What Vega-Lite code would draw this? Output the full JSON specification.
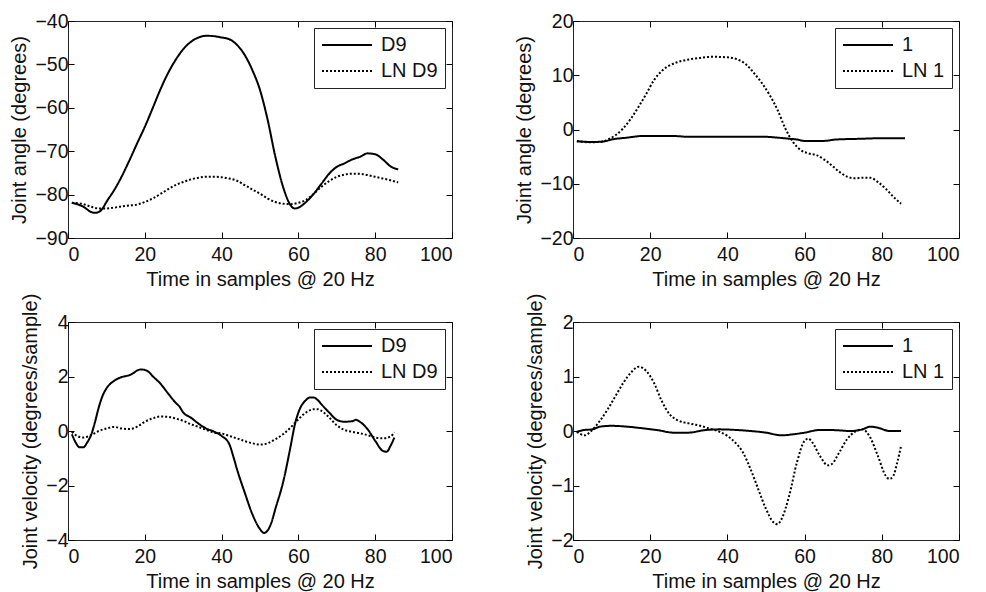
{
"$schema": "https://vega.github.io/schema/vega-lite/v6.json",
"background": "white",
"padding": {"left": 9, "top": 10, "right": 5, "bottom": 2},
"bounds": "flush",
"spacing": {"row": 84, "column": 121},
"columns": 2,
"config": {
  "font": "Liberation Sans",
  "view": {"stroke": "#222", "strokeWidth": 1},
  "axis": {"grid": false, "domain": false, "labelFont": "Liberation Sans", "labelFontSize": 19.5, "labelColor": "#111", "titleFont": "Liberation Sans", "titleFontSize": 20, "titleFontWeight": "normal", "titleColor": "#111", "tickColor": "#000", "tickWidth": 1, "tickSize": -6, "titlePadding": 7},
  "axisX": {"labelPadding": 13, "titlePadding": 6},
  "axisY": {"labelPadding": 6, "titlePadding": 5},
  "legend": {"orient": "top-right", "offset": 7, "labelFont": "Liberation Sans", "labelFontSize": 20, "labelColor": "#111", "labelLimit": 300, "symbolType": "stroke", "symbolSize": 2500, "symbolStrokeWidth": 2, "symbolStrokeColor": "#000", "strokeColor": "#222", "fillColor": "white", "padding": 7, "rowPadding": 6, "labelOffset": 8, "clipHeight": 20}
},
"resolve": {"scale": {"strokeDash": "independent"}, "legend": {"strokeDash": "independent"}},
"data": {"values": [
{"p":"A","s":"D9","t":1,"v":-81.9},{"p":"A","s":"D9","t":2,"v":-82.1},{"p":"A","s":"D9","t":4,"v":-82.8},{"p":"A","s":"D9","t":6,"v":-84},{"p":"A","s":"D9","t":7,"v":-84.2},{"p":"A","s":"D9","t":8,"v":-84},{"p":"A","s":"D9","t":9,"v":-83.2},{"p":"A","s":"D9","t":10,"v":-81.7},{"p":"A","s":"D9","t":12,"v":-79},{"p":"A","s":"D9","t":14,"v":-75.8},{"p":"A","s":"D9","t":16,"v":-72.1},{"p":"A","s":"D9","t":18,"v":-68.2},{"p":"A","s":"D9","t":20,"v":-64.4},{"p":"A","s":"D9","t":22,"v":-60.2},{"p":"A","s":"D9","t":24,"v":-55.9},{"p":"A","s":"D9","t":26,"v":-52.1},{"p":"A","s":"D9","t":28,"v":-49},{"p":"A","s":"D9","t":30,"v":-46.5},{"p":"A","s":"D9","t":32,"v":-44.8},{"p":"A","s":"D9","t":34,"v":-43.8},{"p":"A","s":"D9","t":36,"v":-43.4},{"p":"A","s":"D9","t":38,"v":-43.5},{"p":"A","s":"D9","t":40,"v":-43.8},{"p":"A","s":"D9","t":42,"v":-44.2},{"p":"A","s":"D9","t":44,"v":-45.5},{"p":"A","s":"D9","t":46,"v":-47.8},{"p":"A","s":"D9","t":48,"v":-51.3},{"p":"A","s":"D9","t":50,"v":-55.9},{"p":"A","s":"D9","t":52,"v":-62.8},{"p":"A","s":"D9","t":54,"v":-71.3},{"p":"A","s":"D9","t":56,"v":-78.2},{"p":"A","s":"D9","t":58,"v":-82.5},{"p":"A","s":"D9","t":59,"v":-83.2},{"p":"A","s":"D9","t":60,"v":-83},{"p":"A","s":"D9","t":62,"v":-81.7},{"p":"A","s":"D9","t":64,"v":-79.8},{"p":"A","s":"D9","t":66,"v":-77.5},{"p":"A","s":"D9","t":68,"v":-75.2},{"p":"A","s":"D9","t":70,"v":-73.6},{"p":"A","s":"D9","t":72,"v":-72.8},{"p":"A","s":"D9","t":74,"v":-71.9},{"p":"A","s":"D9","t":76,"v":-71.3},{"p":"A","s":"D9","t":78,"v":-70.5},{"p":"A","s":"D9","t":80,"v":-70.7},{"p":"A","s":"D9","t":82,"v":-71.9},{"p":"A","s":"D9","t":84,"v":-73.5},{"p":"A","s":"D9","t":86,"v":-74.2},
{"p":"A","s":"LN D9","t":1,"v":-81.9},{"p":"A","s":"LN D9","t":4,"v":-82.2},{"p":"A","s":"LN D9","t":6,"v":-82.8},{"p":"A","s":"LN D9","t":8,"v":-83.2},{"p":"A","s":"LN D9","t":10,"v":-83.2},{"p":"A","s":"LN D9","t":12,"v":-83},{"p":"A","s":"LN D9","t":14,"v":-82.7},{"p":"A","s":"LN D9","t":16,"v":-82.5},{"p":"A","s":"LN D9","t":18,"v":-82.3},{"p":"A","s":"LN D9","t":20,"v":-81.7},{"p":"A","s":"LN D9","t":22,"v":-80.9},{"p":"A","s":"LN D9","t":24,"v":-79.9},{"p":"A","s":"LN D9","t":26,"v":-78.8},{"p":"A","s":"LN D9","t":28,"v":-77.8},{"p":"A","s":"LN D9","t":30,"v":-77.1},{"p":"A","s":"LN D9","t":32,"v":-76.5},{"p":"A","s":"LN D9","t":34,"v":-76.1},{"p":"A","s":"LN D9","t":36,"v":-75.9},{"p":"A","s":"LN D9","t":38,"v":-75.9},{"p":"A","s":"LN D9","t":40,"v":-76},{"p":"A","s":"LN D9","t":42,"v":-76.3},{"p":"A","s":"LN D9","t":44,"v":-76.8},{"p":"A","s":"LN D9","t":46,"v":-77.8},{"p":"A","s":"LN D9","t":48,"v":-78.8},{"p":"A","s":"LN D9","t":50,"v":-79.8},{"p":"A","s":"LN D9","t":52,"v":-80.9},{"p":"A","s":"LN D9","t":54,"v":-81.7},{"p":"A","s":"LN D9","t":56,"v":-82.1},{"p":"A","s":"LN D9","t":58,"v":-82.2},{"p":"A","s":"LN D9","t":60,"v":-81.9},{"p":"A","s":"LN D9","t":62,"v":-81.2},{"p":"A","s":"LN D9","t":64,"v":-79.8},{"p":"A","s":"LN D9","t":66,"v":-78.2},{"p":"A","s":"LN D9","t":68,"v":-76.9},{"p":"A","s":"LN D9","t":70,"v":-75.9},{"p":"A","s":"LN D9","t":72,"v":-75.4},{"p":"A","s":"LN D9","t":74,"v":-75.2},{"p":"A","s":"LN D9","t":76,"v":-75.2},{"p":"A","s":"LN D9","t":78,"v":-75.5},{"p":"A","s":"LN D9","t":80,"v":-75.9},{"p":"A","s":"LN D9","t":82,"v":-76.3},{"p":"A","s":"LN D9","t":84,"v":-76.7},{"p":"A","s":"LN D9","t":86,"v":-77.2},
{"p":"B","s":"1","t":1,"v":-2.15},{"p":"B","s":"1","t":5,"v":-2.3},{"p":"B","s":"1","t":8,"v":-2.2},{"p":"B","s":"1","t":10,"v":-1.85},{"p":"B","s":"1","t":14,"v":-1.5},{"p":"B","s":"1","t":18,"v":-1.2},{"p":"B","s":"1","t":22,"v":-1.2},{"p":"B","s":"1","t":26,"v":-1.2},{"p":"B","s":"1","t":30,"v":-1.35},{"p":"B","s":"1","t":40,"v":-1.35},{"p":"B","s":"1","t":50,"v":-1.35},{"p":"B","s":"1","t":53,"v":-1.5},{"p":"B","s":"1","t":56,"v":-1.7},{"p":"B","s":"1","t":58,"v":-1.85},{"p":"B","s":"1","t":60,"v":-2.1},{"p":"B","s":"1","t":65,"v":-2.1},{"p":"B","s":"1","t":68,"v":-1.85},{"p":"B","s":"1","t":75,"v":-1.7},{"p":"B","s":"1","t":80,"v":-1.6},{"p":"B","s":"1","t":86,"v":-1.6},
{"p":"B","s":"LN 1","t":1,"v":-2.15},{"p":"B","s":"LN 1","t":4,"v":-2.35},{"p":"B","s":"LN 1","t":7,"v":-2.3},{"p":"B","s":"LN 1","t":9,"v":-1.85},{"p":"B","s":"LN 1","t":11,"v":-1.05},{"p":"B","s":"LN 1","t":13,"v":0.2},{"p":"B","s":"LN 1","t":15,"v":2},{"p":"B","s":"LN 1","t":17,"v":4.2},{"p":"B","s":"LN 1","t":19,"v":6.6},{"p":"B","s":"LN 1","t":21,"v":9.1},{"p":"B","s":"LN 1","t":23,"v":10.8},{"p":"B","s":"LN 1","t":25,"v":11.8},{"p":"B","s":"LN 1","t":27,"v":12.4},{"p":"B","s":"LN 1","t":30,"v":12.9},{"p":"B","s":"LN 1","t":33,"v":13.2},{"p":"B","s":"LN 1","t":36,"v":13.4},{"p":"B","s":"LN 1","t":40,"v":13.3},{"p":"B","s":"LN 1","t":43,"v":12.8},{"p":"B","s":"LN 1","t":45,"v":11.9},{"p":"B","s":"LN 1","t":47,"v":10.3},{"p":"B","s":"LN 1","t":49,"v":8.5},{"p":"B","s":"LN 1","t":51,"v":6.3},{"p":"B","s":"LN 1","t":53,"v":3.6},{"p":"B","s":"LN 1","t":55,"v":0.2},{"p":"B","s":"LN 1","t":57,"v":-2.3},{"p":"B","s":"LN 1","t":59,"v":-3.8},{"p":"B","s":"LN 1","t":61,"v":-4.4},{"p":"B","s":"LN 1","t":63,"v":-4.7},{"p":"B","s":"LN 1","t":65,"v":-5.5},{"p":"B","s":"LN 1","t":67,"v":-6.6},{"p":"B","s":"LN 1","t":69,"v":-7.8},{"p":"B","s":"LN 1","t":71,"v":-8.7},{"p":"B","s":"LN 1","t":73,"v":-9},{"p":"B","s":"LN 1","t":75,"v":-8.9},{"p":"B","s":"LN 1","t":77,"v":-8.9},{"p":"B","s":"LN 1","t":79,"v":-9.7},{"p":"B","s":"LN 1","t":81,"v":-10.9},{"p":"B","s":"LN 1","t":83,"v":-12.4},{"p":"B","s":"LN 1","t":85,"v":-13.7},
{"p":"C","s":"D9","t":1,"v":-0.12},{"p":"C","s":"D9","t":2,"v":-0.42},{"p":"C","s":"D9","t":3,"v":-0.6},{"p":"C","s":"D9","t":4,"v":-0.6},{"p":"C","s":"D9","t":5,"v":-0.42},{"p":"C","s":"D9","t":6,"v":-0.15},{"p":"C","s":"D9","t":7,"v":0.31},{"p":"C","s":"D9","t":8,"v":0.86},{"p":"C","s":"D9","t":9,"v":1.29},{"p":"C","s":"D9","t":10,"v":1.56},{"p":"C","s":"D9","t":12,"v":1.84},{"p":"C","s":"D9","t":14,"v":1.98},{"p":"C","s":"D9","t":16,"v":2.05},{"p":"C","s":"D9","t":17,"v":2.12},{"p":"C","s":"D9","t":18,"v":2.22},{"p":"C","s":"D9","t":19,"v":2.26},{"p":"C","s":"D9","t":20,"v":2.24},{"p":"C","s":"D9","t":21,"v":2.17},{"p":"C","s":"D9","t":22,"v":2.02},{"p":"C","s":"D9","t":24,"v":1.75},{"p":"C","s":"D9","t":26,"v":1.39},{"p":"C","s":"D9","t":28,"v":1.04},{"p":"C","s":"D9","t":29,"v":0.9},{"p":"C","s":"D9","t":30,"v":0.68},{"p":"C","s":"D9","t":32,"v":0.49},{"p":"C","s":"D9","t":34,"v":0.27},{"p":"C","s":"D9","t":36,"v":0.09},{"p":"C","s":"D9","t":38,"v":-0.02},{"p":"C","s":"D9","t":40,"v":-0.18},{"p":"C","s":"D9","t":42,"v":-0.48},{"p":"C","s":"D9","t":43,"v":-0.91},{"p":"C","s":"D9","t":44,"v":-1.4},{"p":"C","s":"D9","t":46,"v":-2.25},{"p":"C","s":"D9","t":48,"v":-3.05},{"p":"C","s":"D9","t":50,"v":-3.6},{"p":"C","s":"D9","t":51,"v":-3.74},{"p":"C","s":"D9","t":52,"v":-3.65},{"p":"C","s":"D9","t":53,"v":-3.35},{"p":"C","s":"D9","t":54,"v":-2.86},{"p":"C","s":"D9","t":56,"v":-1.89},{"p":"C","s":"D9","t":58,"v":-0.54},{"p":"C","s":"D9","t":59,"v":0.19},{"p":"C","s":"D9","t":60,"v":0.68},{"p":"C","s":"D9","t":62,"v":1.14},{"p":"C","s":"D9","t":63,"v":1.23},{"p":"C","s":"D9","t":64,"v":1.23},{"p":"C","s":"D9","t":65,"v":1.14},{"p":"C","s":"D9","t":66,"v":0.98},{"p":"C","s":"D9","t":68,"v":0.68},{"p":"C","s":"D9","t":70,"v":0.41},{"p":"C","s":"D9","t":72,"v":0.34},{"p":"C","s":"D9","t":74,"v":0.36},{"p":"C","s":"D9","t":75,"v":0.41},{"p":"C","s":"D9","t":76,"v":0.34},{"p":"C","s":"D9","t":78,"v":0.07},{"p":"C","s":"D9","t":80,"v":-0.36},{"p":"C","s":"D9","t":82,"v":-0.73},{"p":"C","s":"D9","t":83,"v":-0.76},{"p":"C","s":"D9","t":84,"v":-0.54},{"p":"C","s":"D9","t":85,"v":-0.24},
{"p":"C","s":"LN D9","t":1,"v":-0.03},{"p":"C","s":"LN D9","t":2,"v":-0.15},{"p":"C","s":"LN D9","t":4,"v":-0.24},{"p":"C","s":"LN D9","t":6,"v":-0.15},{"p":"C","s":"LN D9","t":8,"v":0},{"p":"C","s":"LN D9","t":10,"v":0.09},{"p":"C","s":"LN D9","t":12,"v":0.15},{"p":"C","s":"LN D9","t":14,"v":0.09},{"p":"C","s":"LN D9","t":16,"v":0.07},{"p":"C","s":"LN D9","t":18,"v":0.16},{"p":"C","s":"LN D9","t":20,"v":0.34},{"p":"C","s":"LN D9","t":22,"v":0.46},{"p":"C","s":"LN D9","t":24,"v":0.53},{"p":"C","s":"LN D9","t":26,"v":0.52},{"p":"C","s":"LN D9","t":28,"v":0.46},{"p":"C","s":"LN D9","t":30,"v":0.37},{"p":"C","s":"LN D9","t":32,"v":0.25},{"p":"C","s":"LN D9","t":34,"v":0.15},{"p":"C","s":"LN D9","t":36,"v":0.04},{"p":"C","s":"LN D9","t":38,"v":-0.06},{"p":"C","s":"LN D9","t":40,"v":-0.09},{"p":"C","s":"LN D9","t":42,"v":-0.18},{"p":"C","s":"LN D9","t":44,"v":-0.27},{"p":"C","s":"LN D9","t":46,"v":-0.37},{"p":"C","s":"LN D9","t":48,"v":-0.45},{"p":"C","s":"LN D9","t":50,"v":-0.5},{"p":"C","s":"LN D9","t":52,"v":-0.45},{"p":"C","s":"LN D9","t":54,"v":-0.3},{"p":"C","s":"LN D9","t":56,"v":-0.12},{"p":"C","s":"LN D9","t":58,"v":0.13},{"p":"C","s":"LN D9","t":60,"v":0.43},{"p":"C","s":"LN D9","t":62,"v":0.68},{"p":"C","s":"LN D9","t":64,"v":0.8},{"p":"C","s":"LN D9","t":65,"v":0.8},{"p":"C","s":"LN D9","t":66,"v":0.74},{"p":"C","s":"LN D9","t":68,"v":0.5},{"p":"C","s":"LN D9","t":70,"v":0.21},{"p":"C","s":"LN D9","t":72,"v":0.04},{"p":"C","s":"LN D9","t":74,"v":-0.03},{"p":"C","s":"LN D9","t":76,"v":-0.08},{"p":"C","s":"LN D9","t":78,"v":-0.15},{"p":"C","s":"LN D9","t":80,"v":-0.24},{"p":"C","s":"LN D9","t":82,"v":-0.27},{"p":"C","s":"LN D9","t":84,"v":-0.2},{"p":"C","s":"LN D9","t":85,"v":-0.05},
{"p":"D","s":"1","t":1,"v":-0.015},{"p":"D","s":"1","t":3,"v":0.02},{"p":"D","s":"1","t":5,"v":0.03},{"p":"D","s":"1","t":7,"v":0.08},{"p":"D","s":"1","t":10,"v":0.095},{"p":"D","s":"1","t":14,"v":0.08},{"p":"D","s":"1","t":18,"v":0.05},{"p":"D","s":"1","t":22,"v":0.015},{"p":"D","s":"1","t":26,"v":-0.03},{"p":"D","s":"1","t":30,"v":-0.03},{"p":"D","s":"1","t":34,"v":0.015},{"p":"D","s":"1","t":38,"v":0.03},{"p":"D","s":"1","t":42,"v":0.02},{"p":"D","s":"1","t":46,"v":0},{"p":"D","s":"1","t":50,"v":-0.03},{"p":"D","s":"1","t":54,"v":-0.08},{"p":"D","s":"1","t":57,"v":-0.06},{"p":"D","s":"1","t":60,"v":-0.03},{"p":"D","s":"1","t":64,"v":0.02},{"p":"D","s":"1","t":68,"v":0.015},{"p":"D","s":"1","t":72,"v":0},{"p":"D","s":"1","t":75,"v":0.03},{"p":"D","s":"1","t":77,"v":0.08},{"p":"D","s":"1","t":79,"v":0.06},{"p":"D","s":"1","t":82,"v":0},{"p":"D","s":"1","t":85,"v":0},
{"p":"D","s":"LN 1","t":1,"v":-0.015},{"p":"D","s":"LN 1","t":3,"v":-0.08},{"p":"D","s":"LN 1","t":5,"v":0.02},{"p":"D","s":"LN 1","t":7,"v":0.19},{"p":"D","s":"LN 1","t":9,"v":0.4},{"p":"D","s":"LN 1","t":11,"v":0.64},{"p":"D","s":"LN 1","t":13,"v":0.88},{"p":"D","s":"LN 1","t":15,"v":1.07},{"p":"D","s":"LN 1","t":17,"v":1.18},{"p":"D","s":"LN 1","t":19,"v":1.1},{"p":"D","s":"LN 1","t":21,"v":0.88},{"p":"D","s":"LN 1","t":23,"v":0.55},{"p":"D","s":"LN 1","t":25,"v":0.31},{"p":"D","s":"LN 1","t":27,"v":0.2},{"p":"D","s":"LN 1","t":30,"v":0.14},{"p":"D","s":"LN 1","t":33,"v":0.095},{"p":"D","s":"LN 1","t":36,"v":0.03},{"p":"D","s":"LN 1","t":38,"v":-0.015},{"p":"D","s":"LN 1","t":40,"v":-0.09},{"p":"D","s":"LN 1","t":42,"v":-0.21},{"p":"D","s":"LN 1","t":44,"v":-0.39},{"p":"D","s":"LN 1","t":46,"v":-0.7},{"p":"D","s":"LN 1","t":48,"v":-1.07},{"p":"D","s":"LN 1","t":50,"v":-1.43},{"p":"D","s":"LN 1","t":52,"v":-1.68},{"p":"D","s":"LN 1","t":53,"v":-1.71},{"p":"D","s":"LN 1","t":54,"v":-1.62},{"p":"D","s":"LN 1","t":56,"v":-1.19},{"p":"D","s":"LN 1","t":58,"v":-0.58},{"p":"D","s":"LN 1","t":60,"v":-0.18},{"p":"D","s":"LN 1","t":61,"v":-0.14},{"p":"D","s":"LN 1","t":62,"v":-0.21},{"p":"D","s":"LN 1","t":64,"v":-0.46},{"p":"D","s":"LN 1","t":66,"v":-0.63},{"p":"D","s":"LN 1","t":67,"v":-0.61},{"p":"D","s":"LN 1","t":69,"v":-0.39},{"p":"D","s":"LN 1","t":71,"v":-0.15},{"p":"D","s":"LN 1","t":73,"v":-0.015},{"p":"D","s":"LN 1","t":75,"v":0.03},{"p":"D","s":"LN 1","t":77,"v":-0.12},{"p":"D","s":"LN 1","t":79,"v":-0.46},{"p":"D","s":"LN 1","t":81,"v":-0.82},{"p":"D","s":"LN 1","t":82,"v":-0.88},{"p":"D","s":"LN 1","t":83,"v":-0.82},{"p":"D","s":"LN 1","t":84,"v":-0.58},{"p":"D","s":"LN 1","t":85,"v":-0.27}
]},
"concat": [
 {"width": 384, "height": 217,
  "transform": [{"filter": "datum.p === 'A'"}],
  "layer": [
   {"mark": {"type": "line", "interpolate": "monotone", "strokeWidth": 2, "color": "#000"},
    "encoding": {
     "x": {"field": "t", "type": "quantitative", "scale": {"domain": [0, 100], "nice": false}, "axis": {"values": [0,20,40,60,80,100], "title": "Time in samples @ 20 Hz"}},
     "y": {"field": "v", "type": "quantitative", "scale": {"domain": [-90, -40], "nice": false, "zero": false}, "axis": {"values": [-90,-80,-70,-60,-50,-40], "title": "Joint angle (degrees)"}},
     "strokeDash": {"field": "s", "type": "nominal", "scale": {"domain": ["D9", "LN D9"], "range": [[1,0],[2,2]]}, "legend": {"title": null}}
    }},
   {"mark": {"type": "point", "opacity": 0},
    "encoding": {
     "x": {"field": "t", "type": "quantitative", "axis": {"orient": "top", "labels": false, "title": null, "values": [0,20,40,60,80,100]}},
     "y": {"field": "v", "type": "quantitative", "axis": {"orient": "right", "labels": false, "title": null, "values": [-90,-80,-70,-60,-50,-40]}}
    }}
  ],
  "resolve": {"axis": {"x": "independent", "y": "independent"}}
 },
 {"width": 386, "height": 217,
  "transform": [{"filter": "datum.p === 'B'"}],
  "layer": [
   {"mark": {"type": "line", "interpolate": "monotone", "strokeWidth": 2, "color": "#000"},
    "encoding": {
     "x": {"field": "t", "type": "quantitative", "scale": {"domain": [0, 100], "nice": false}, "axis": {"values": [0,20,40,60,80,100], "title": "Time in samples @ 20 Hz"}},
     "y": {"field": "v", "type": "quantitative", "scale": {"domain": [-20, 20], "nice": false, "zero": false}, "axis": {"values": [-20,-10,0,10,20], "title": "Joint angle (degrees)"}},
     "strokeDash": {"field": "s", "type": "nominal", "scale": {"domain": ["1", "LN 1"], "range": [[1,0],[2,2]]}, "legend": {"title": null}}
    }},
   {"mark": {"type": "point", "opacity": 0},
    "encoding": {
     "x": {"field": "t", "type": "quantitative", "axis": {"orient": "top", "labels": false, "title": null, "values": [0,20,40,60,80,100]}},
     "y": {"field": "v", "type": "quantitative", "axis": {"orient": "right", "labels": false, "title": null, "values": [-20,-10,0,10,20]}}
    }}
  ],
  "resolve": {"axis": {"x": "independent", "y": "independent"}}
 },
 {"width": 384, "height": 218,
  "transform": [{"filter": "datum.p === 'C'"}],
  "layer": [
   {"mark": {"type": "line", "interpolate": "monotone", "strokeWidth": 2, "color": "#000"},
    "encoding": {
     "x": {"field": "t", "type": "quantitative", "scale": {"domain": [0, 100], "nice": false}, "axis": {"values": [0,20,40,60,80,100], "title": "Time in samples @ 20 Hz"}},
     "y": {"field": "v", "type": "quantitative", "scale": {"domain": [-4, 4], "nice": false, "zero": false}, "axis": {"values": [-4,-2,0,2,4], "title": "Joint velocity (degrees/sample)"}},
     "strokeDash": {"field": "s", "type": "nominal", "scale": {"domain": ["D9", "LN D9"], "range": [[1,0],[2,2]]}, "legend": {"title": null}}
    }},
   {"mark": {"type": "point", "opacity": 0},
    "encoding": {
     "x": {"field": "t", "type": "quantitative", "axis": {"orient": "top", "labels": false, "title": null, "values": [0,20,40,60,80,100]}},
     "y": {"field": "v", "type": "quantitative", "axis": {"orient": "right", "labels": false, "title": null, "values": [-4,-2,0,2,4]}}
    }}
  ],
  "resolve": {"axis": {"x": "independent", "y": "independent"}}
 },
 {"width": 386, "height": 218,
  "transform": [{"filter": "datum.p === 'D'"}],
  "layer": [
   {"mark": {"type": "line", "interpolate": "monotone", "strokeWidth": 2, "color": "#000"},
    "encoding": {
     "x": {"field": "t", "type": "quantitative", "scale": {"domain": [0, 100], "nice": false}, "axis": {"values": [0,20,40,60,80,100], "title": "Time in samples @ 20 Hz"}},
     "y": {"field": "v", "type": "quantitative", "scale": {"domain": [-2, 2], "nice": false, "zero": false}, "axis": {"values": [-2,-1,0,1,2], "title": "Joint velocity (degrees/sample)"}},
     "strokeDash": {"field": "s", "type": "nominal", "scale": {"domain": ["1", "LN 1"], "range": [[1,0],[2,2]]}, "legend": {"title": null}}
    }},
   {"mark": {"type": "point", "opacity": 0},
    "encoding": {
     "x": {"field": "t", "type": "quantitative", "axis": {"orient": "top", "labels": false, "title": null, "values": [0,20,40,60,80,100]}},
     "y": {"field": "v", "type": "quantitative", "axis": {"orient": "right", "labels": false, "title": null, "values": [-2,-1,0,1,2]}}
    }}
  ],
  "resolve": {"axis": {"x": "independent", "y": "independent"}}
 }
]
}
